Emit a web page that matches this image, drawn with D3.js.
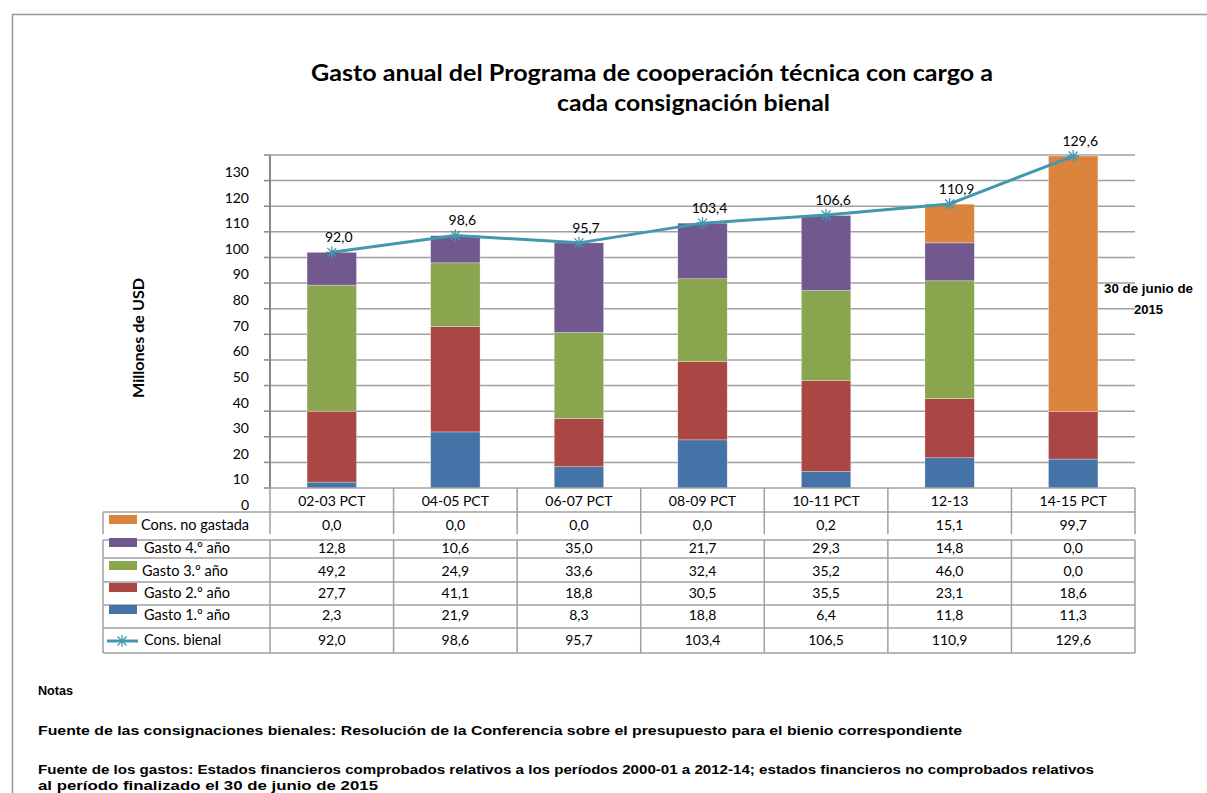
<!DOCTYPE html>
<html>
<head>
<meta charset="utf-8">
<script src="https://cdn.jsdelivr.net/npm/d3@7"></script>
<style>
  body { margin: 0; background: #fff; }
  svg { display: block; }
  .cal { font-family: Lato, "Open Sans", sans-serif; }
  .ari { font-family: "Liberation Sans", Arial, sans-serif; font-weight: bold; }
</style>
</head>
<body>
<div id="chart"></div>
<script>
// data
const categories = ["02-03 PCT", "04-05 PCT", "06-07 PCT", "08-09 PCT", "10-11 PCT", "12-13", "14-15 PCT"];
const gasto1 = [2.3, 21.9, 8.3, 18.8, 6.4, 11.8, 11.3];
const gasto2 = [27.7, 41.1, 18.8, 30.5, 35.5, 23.1, 18.6];
const gasto3 = [49.2, 24.9, 33.6, 32.4, 35.2, 46.0, 0.0];
const gasto4 = [12.8, 10.6, 35.0, 21.7, 29.3, 14.8, 0.0];
const noGastada = [0.0, 0.0, 0.0, 0.0, 0.2, 15.1, 99.7];
const consBienal = [92.0, 98.6, 95.7, 103.4, 106.6, 110.9, 129.6];      // line + labels
const consBienalTabla = [92.0, 98.6, 95.7, 103.4, 106.5, 110.9, 129.6]; // as printed in table
const yTicks = [0, 10, 20, 30, 40, 50, 60, 70, 80, 90, 100, 110, 120, 130];

const seriesNames = ["Gasto 1.º año", "Gasto 2.º año", "Gasto 3.º año", "Gasto 4.º año", "Cons. no gastada"];
const seriesValues = [gasto1, gasto2, gasto3, gasto4, noGastada];
const colors = ["#4572A7", "#AA4643", "#89A54E", "#71588F", "#DB843D"];
const lineColor = "#4198AF";

const width = 1207, height = 793;
const plotL = 270, plotR = 1135, plotT = 155, plotB = 488;

const svg = d3.select("#chart").append("svg")
  .attr("width", width)
  .attr("height", height);

// outer frame
svg.append("path")
  .attr("d", `M12.5,${height} V14.5 H${width}`)
  .attr("fill", "none")
  .attr("stroke", "#999")
  .attr("stroke-width", 1.5);

// title
svg.append("text").attr("class", "cal")
  .attr("x", 311).attr("y", 81)
  .attr("textLength", 682).attr("lengthAdjust", "spacingAndGlyphs")
  .style("font-size", "23px").style("font-weight", "bold")
  .text("Gasto anual del Programa de cooperación técnica con cargo a");
svg.append("text").attr("class", "cal")
  .attr("x", 557).attr("y", 111)
  .attr("textLength", 273).attr("lengthAdjust", "spacingAndGlyphs")
  .style("font-size", "23px").style("font-weight", "bold")
  .text("cada consignación bienal");

// scales
const y = d3.scaleLinear().domain([0, 130]).range([plotB, plotT]);
const x = d3.scaleBand().domain(categories).range([plotL, plotR])
  .paddingInner(0.6).paddingOuter(0.3);
const col = d3.scaleBand().domain(categories).range([plotL, plotR]).padding(0);

// gridlines
svg.append("g")
  .selectAll("line")
  .data(yTicks.filter(d => d > 0))
  .join("line")
    .attr("x1", plotL).attr("x2", plotR)
    .attr("y1", d => y(d)).attr("y2", d => y(d))
    .attr("stroke", "#A0A0A0")
    .attr("stroke-width", 1.5);

// y axis line + ticks
svg.append("line")
  .attr("x1", plotL).attr("x2", plotL)
  .attr("y1", plotT).attr("y2", plotB)
  .attr("stroke", "#888").attr("stroke-width", 2);
svg.append("g")
  .selectAll("line")
  .data(yTicks)
  .join("line")
    .attr("x1", plotL - 6).attr("x2", plotL)
    .attr("y1", d => y(d)).attr("y2", d => y(d))
    .attr("stroke", "#888").attr("stroke-width", 1.5);

// tick labels (sit below their gridline in the original)
svg.append("g")
  .selectAll("text")
  .data(yTicks)
  .join("text")
    .attr("class", "cal")
    .attr("x", 249)
    .attr("y", d => y(d) + 22)
    .attr("text-anchor", "end")
    .style("font-size", "14px")
    .text(d => d);

// y title
svg.append("text").attr("class", "cal")
  .attr("transform", "translate(144,338) rotate(-90)")
  .attr("text-anchor", "middle")
  .attr("textLength", 120).attr("lengthAdjust", "spacingAndGlyphs")
  .style("font-size", "16px").style("font-weight", "bold")
  .text("Millones de USD");

// stacked bars
const rows = categories.map((c, i) => {
  const r = { cat: c };
  seriesNames.forEach((s, k) => r[s] = seriesValues[k][i]);
  return r;
});
const stack = d3.stack().keys(seriesNames)(rows);

svg.append("g")
  .selectAll("g")
  .data(stack)
  .join("g")
    .attr("fill", (d, i) => colors[i])
  .selectAll("rect")
  .data(d => d)
  .join("rect")
    .attr("x", d => x(d.data.cat))
    .attr("width", x.bandwidth())
    .attr("y", d => y(d[1]))
    .attr("height", d => y(d[0]) - y(d[1]))
    .attr("stroke", "rgba(255,255,255,0.5)")
    .attr("stroke-width", 0.6);

// line
const cx = c => x(c) + x.bandwidth() / 2;
const line = d3.line()
  .x((d, i) => cx(categories[i]))
  .y(d => y(d));

svg.append("path")
  .datum(consBienal)
  .attr("d", line)
  .attr("fill", "none")
  .attr("stroke", lineColor)
  .attr("stroke-width", 3)
  .attr("stroke-linejoin", "round");

const star = "M-4.5,-4.5L4.5,4.5M-4.5,4.5L4.5,-4.5M0,-6V6M-6,0H6";
svg.append("g")
  .selectAll("path")
  .data(consBienal)
  .join("path")
    .attr("transform", (d, i) => `translate(${cx(categories[i])},${y(d)})`)
    .attr("d", star)
    .attr("stroke", lineColor)
    .attr("stroke-width", 1.3)
    .attr("fill", "none");

const fmt = v => v.toFixed(1).replace(".", ",");
svg.append("g")
  .selectAll("text")
  .data(consBienal)
  .join("text")
    .attr("class", "cal")
    .attr("x", (d, i) => cx(categories[i]) + 7)
    .attr("y", d => y(d) - 10)
    .attr("text-anchor", "middle")
    .style("font-size", "14px")
    .text(fmt);

// side note
svg.append("text").attr("class", "ari")
  .attr("x", 1104).attr("y", 293)
  .attr("textLength", 89).attr("lengthAdjust", "spacingAndGlyphs")
  .style("font-size", "12px")
  .text("30 de junio de");
svg.append("text").attr("class", "ari")
  .attr("x", 1134).attr("y", 314)
  .attr("textLength", 29).attr("lengthAdjust", "spacingAndGlyphs")
  .style("font-size", "12px")
  .text("2015");

// data table
const gridStroke = "#A0A0A0";
const tbl = svg.append("g");
const tLeft = 103;
const tableRows = [
  { name: "Cons. no gastada", vals: noGastada, color: colors[4], ty: 530, lx: 141 },
  { name: "Gasto 4.º año", vals: gasto4, color: colors[3], ty: 553, lx: 144 },
  { name: "Gasto 3.º año", vals: gasto3, color: colors[2], ty: 576, lx: 142 },
  { name: "Gasto 2.º año", vals: gasto2, color: colors[1], ty: 598, lx: 144 },
  { name: "Gasto 1.º año", vals: gasto1, color: colors[0], ty: 620, lx: 144 },
  { name: "Cons. bienal", vals: consBienalTabla, color: null, ty: 645, lx: 144 }
];

// horizontal lines
[[plotL, 488], [tLeft, 512], [tLeft, 540], [tLeft, 558], [tLeft, 582], [tLeft, 605], [tLeft, 628], [tLeft, 653]]
  .forEach(([x0, yy]) => {
    tbl.append("line")
      .attr("x1", x0).attr("x2", plotR)
      .attr("y1", yy).attr("y2", yy)
      .attr("stroke", gridStroke).attr("stroke-width", 1.5);
  });
// vertical lines
const vx = [tLeft].concat(categories.map(c => col(c))).concat([plotR]);
vx.forEach((xx, i) => {
  const yStart = i === 0 ? 512 : 488;
  tbl.append("line")
    .attr("x1", xx).attr("x2", xx)
    .attr("y1", yStart).attr("y2", 534)
    .attr("stroke", gridStroke).attr("stroke-width", 1.5);
  tbl.append("line")
    .attr("x1", xx).attr("x2", xx)
    .attr("y1", 540).attr("y2", 653)
    .attr("stroke", gridStroke).attr("stroke-width", 1.5);
});

// header labels
tbl.selectAll("text.hdr")
  .data(categories)
  .join("text")
    .attr("class", "cal hdr")
    .attr("x", c => col(c) + col.bandwidth() / 2)
    .attr("y", 506)
    .attr("text-anchor", "middle")
    .style("font-size", "14px")
    .text(c => c);

tableRows.forEach(r => {
  if (r.color) {
    tbl.append("rect")
      .attr("x", 109).attr("y", r.ty - 15)
      .attr("width", 28).attr("height", 9)
      .attr("fill", r.color);
  } else {
    tbl.append("line")
      .attr("x1", 107).attr("x2", 138)
      .attr("y1", r.ty - 4).attr("y2", r.ty - 4)
      .attr("stroke", lineColor).attr("stroke-width", 3);
    tbl.append("path")
      .attr("transform", `translate(122,${r.ty - 4})`)
      .attr("d", star)
      .attr("stroke", lineColor).attr("stroke-width", 1.3);
  }
  tbl.append("text").attr("class", "cal")
    .attr("x", r.lx).attr("y", r.ty)
    .style("font-size", "14.5px")
    .text(r.name);
  tbl.selectAll(null)
    .data(r.vals)
    .join("text")
      .attr("class", "cal")
      .attr("x", (d, i) => col(categories[i]) + col.bandwidth() / 2)
      .attr("y", r.ty)
      .attr("text-anchor", "middle")
      .style("font-size", "14px")
      .text(fmt);
});

// notes (text in the original is stretched horizontally)
const notes = [
  { t: "Notas", y: 695, w: 35 },
  { t: "Fuente de las consignaciones bienales: Resolución de la Conferencia sobre el presupuesto para el bienio correspondiente", y: 735, w: 924 },
  { t: "Fuente de los gastos: Estados financieros comprobados relativos a los períodos 2000-01 a 2012-14; estados financieros no comprobados relativos", y: 774, w: 1056 },
  { t: "al período finalizado el 30 de junio de 2015", y: 790, w: 340 }
];
svg.append("g")
  .selectAll("text")
  .data(notes)
  .join("text")
    .attr("class", "ari")
    .attr("x", 38)
    .attr("y", d => d.y)
    .attr("textLength", d => d.w)
    .attr("lengthAdjust", "spacingAndGlyphs")
    .style("font-size", "13px")
    .text(d => d.t);
</script>
</body>
</html>
